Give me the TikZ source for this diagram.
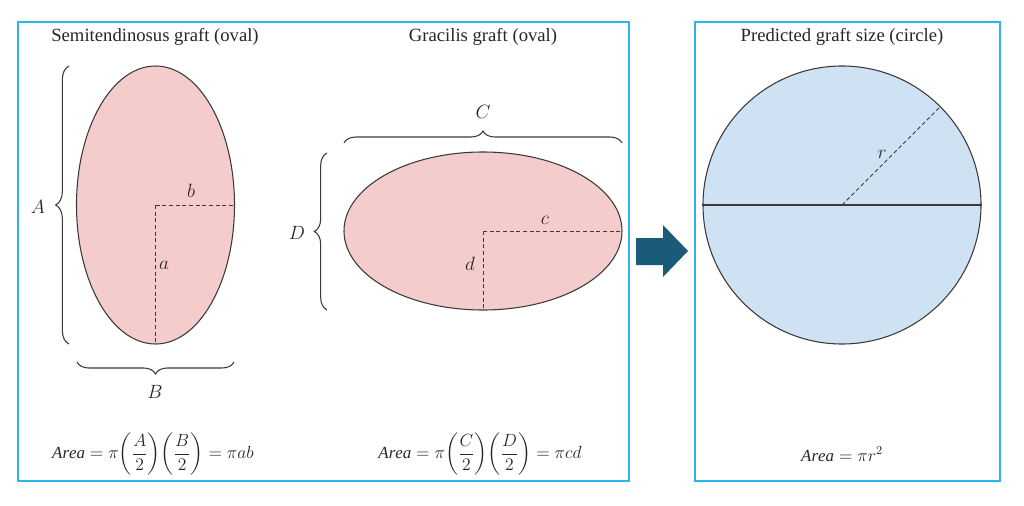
\documentclass[tikz,border=0pt]{standalone}
\usepackage{amsmath}
\usepackage{fontspec}
\setmainfont{Liberation Serif}
\usetikzlibrary{shapes.geometric,decorations.pathreplacing,calc}
\definecolor{boxblue}{HTML}{2DB4E8}
\definecolor{pinkfill}{HTML}{F4CCCC}
\definecolor{bluefill}{HTML}{CFE2F3}
\definecolor{outline}{HTML}{3A3A3A}
\definecolor{arrowteal}{HTML}{1A5B7A}
\definecolor{txt}{HTML}{262626}
\newcommand{\halfpar}[1]{{\left(\dfrac{#1}{2}\right)}}
\begin{document}
\begin{tikzpicture}[x=0.75pt,y=-0.75pt,
  panel/.style={draw=boxblue,line width=1.6pt},
  graft/.style={ellipse,draw=outline,fill=pinkfill,line width=0.8pt,inner sep=0pt},
  disc/.style={circle,draw=outline,fill=bluefill,line width=0.8pt,inner sep=0pt,minimum size=208.5pt},
  dim/.style={draw=outline,line width=0.7pt,dash pattern=on 3pt off 2pt},
  bracestyle/.style={draw=outline,line width=0.8pt,decorate,decoration={brace,amplitude=#1}},
  title/.style={font=\fontsize{14}{16}\selectfont,text=txt,inner sep=0pt},
  lab/.style={font=\fontsize{15}{17}\selectfont,text=txt,inner sep=0pt},
  formula/.style={font=\fontsize{13.8}{16}\selectfont,text=txt,inner sep=0pt,scale=0.92}
]
\useasboundingbox (0,0) rectangle (1024,506);
% panels
\draw[panel] (18,22) rectangle (629,481);
\draw[panel] (695,22) rectangle (1000,481);
% titles
\node[title] (t1) at (155,37) {Semitendinosus graft (oval)};
\node[title] (t2) at (483,37) {Gracilis graft (oval)};
\node[title] (t3) at (842,37) {Predicted graft size (circle)};
% semitendinosus ellipse
\node[graft,minimum width=118.5pt,minimum height=208.5pt] (semi) at (155.5,205) {};
\draw[dim] (semi.center) -- (semi.east);
\draw[dim] (semi.center) -- (semi.south);
\node[lab] (lb) at (191,191) {$b$};
\node[lab] (la) at (164,265) {$a$};
\coordinate (Abot) at (69,344);
\coordinate (Atop) at (69,66);
\draw[bracestyle=10pt] (Abot) -- (Atop);
\node[lab] (lA) at (38,207) {$A$};
\coordinate (Bl) at (77,362);
\coordinate (Br) at (234,362);
\draw[bracestyle=9pt] (Br) -- (Bl);
\node[lab] (lB) at (155,392) {$B$};
% gracilis ellipse
\node[graft,minimum width=208.5pt,minimum height=118.5pt] (grac) at (483,231) {};
\draw[dim] (grac.center) -- (grac.east);
\draw[dim] (grac.center) -- (grac.south);
\node[lab] (lc) at (545,220) {$c$};
\node[lab] (ld) at (470,264) {$d$};
\coordinate (Cl) at (344,143);
\coordinate (Cr) at (622,143);
\draw[bracestyle=9pt] (Cl) -- (Cr);
\node[lab] (lC) at (483,112) {$C$};
\coordinate (Dbot) at (327,310);
\coordinate (Dtop) at (327,153);
\draw[bracestyle=9.5pt] (Dbot) -- (Dtop);
\node[lab] (lD) at (297,233) {$D$};
% circle
\node[disc] (circ) at (842,205) {};
\draw[draw=outline,line width=0.8pt] (circ.west) -- (circ.east);
\draw[dim] (circ.center) -- (circ.45);
\node[lab] (lr) at (882,154) {$r$};
% arrow
\fill[arrowteal] (636,238) -- (663,238) -- (663,225) -- (688,251) -- (663,277) -- (663,265) -- (636,265) -- cycle;
% formulas
\node[formula] (f1) at (153,454) {$\mathit{Area}=\pi\halfpar{A}\halfpar{B}=\pi ab$};
\node[formula] (f2) at (480,454) {$\mathit{Area}=\pi\halfpar{C}\halfpar{D}=\pi cd$};
\node[formula] (f3) at (842,454) {$\mathit{Area}=\pi r^{2}$};
\end{tikzpicture}
\end{document}
